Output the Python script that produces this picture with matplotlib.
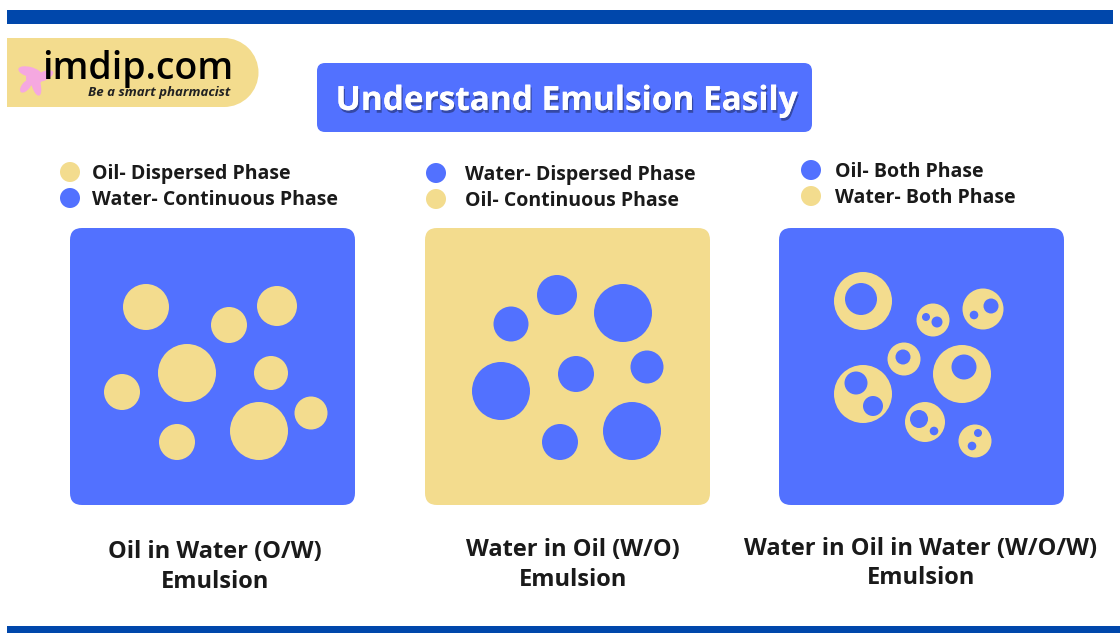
import matplotlib
matplotlib.use("Agg")
import matplotlib.pyplot as plt
from matplotlib.patches import Circle, FancyBboxPatch, Rectangle, Ellipse
import matplotlib.patheffects as pe

BLUE = "#5271FF"
YELLOW = "#F3DC8E"
DARK = "#0047AB"

plt.rcParams['font.family'] = ['Open Sans', 'DejaVu Sans']

# panels: (x, y, width, height) in picture pixels
panel_x = [70, 425, 779]
panel_y = 228
panel_w = 285
panel_h = 277
panel_bg = [BLUE, YELLOW, BLUE]

# droplets (cx, cy, r)
drops_ow = [(146, 307, 23), (229, 325, 18), (277, 306, 20), (187, 373, 29),
            (122, 392, 18), (271, 373, 17), (311, 413, 16.5), (177, 442, 18),
            (259, 431, 29)]
drops_wo = [(557, 295, 20), (511, 324, 17.5), (623, 313, 29), (501, 391, 29),
            (576, 374, 18), (647, 367, 16.5), (560, 442, 18), (632, 431, 29)]
# W/O/W: outer oil droplet, then inner water droplets
drops_wow = [
    ((863, 301, 29), [(861, 299, 16)]),
    ((933, 320, 16.5), [(926, 317, 4), (937, 322, 5.5)]),
    ((983, 309, 20.5), [(991, 306, 7.5), (974, 315, 4.3)]),
    ((904, 359, 16.5), [(903, 357, 7.5)]),
    ((962, 374, 29), [(964, 367, 12.5)]),
    ((863, 394, 29), [(856, 383, 11.5), (873, 406, 10)]),
    ((925, 422, 20), [(919, 419, 9), (934, 431, 4.3)]),
    ((975, 441, 16.5), [(978, 433, 4), (972, 446, 4.3)]),
]

legend_text = [["Oil- Dispersed Phase", "Water- Continuous Phase"],
               ["Water- Dispersed Phase", "Oil- Continuous Phase"],
               ["Oil- Both Phase", "Water- Both Phase"]]
legend_col = [[YELLOW, BLUE], [BLUE, YELLOW], [BLUE, YELLOW]]
legend_dot_x = [70, 436, 811]
legend_text_x = [92, 465, 835]
legend_base = [[179, 205], [180, 206], [177, 203]]

labels = [["Oil in Water (O/W)", "Emulsion"],
          ["Water in Oil (W/O)", "Emulsion"],
          ["Water in Oil in Water (W/O/W)", "Emulsion"]]
label_x = [215, 573, 921]
label_base = [[558, 588], [556, 586], [555, 584]]

fig = plt.figure(figsize=(11.2, 6.33), dpi=100)
ax = fig.add_axes([0, 0, 1, 1])
ax.set_xlim(0, 1120)
ax.set_ylim(633, 0)
ax.axis('off')

# top and bottom bars
ax.add_patch(Rectangle((7, 10), 1106, 14, color=DARK, lw=0))
ax.add_patch(Rectangle((7, 626), 1113, 7, color=DARK, lw=0))

# logo
ax.add_patch(Rectangle((7, 38), 218, 69, color=YELLOW, lw=0))
ax.add_patch(Circle((224, 72.5), 34.5, color=YELLOW, lw=0))
pink = "#F5A8E0"
for (cx, cy, w, h, a) in [(30, 72, 24, 10, 15), (36, 84, 9, 24, -15),
                          (26, 86, 8, 16, 40), (44, 76, 20, 9, -25),
                          (34, 78, 16, 16, 0)]:
    ax.add_patch(Ellipse((cx, cy), w, h, angle=a, color=pink, lw=0))
ax.text(42, 79, "imdip.com", fontsize=27, fontweight="semibold",
        color="black", va="baseline", ha="left")
ax.text(88, 96, "Be a smart pharmacist", fontsize=9.5, fontweight="bold",
        style="italic", color="#222222", va="baseline", ha="left")

# title
ax.add_patch(FancyBboxPatch((317, 63), 495, 69,
                            boxstyle="round,pad=0,rounding_size=8",
                            color=BLUE, lw=0))
ax.text(567, 110, "Understand Emulsion Easily", fontsize=24,
        fontweight="bold", color="white", ha="center", va="baseline",
        path_effects=[pe.withSimplePatchShadow(offset=(1, -2),
                                               shadow_rgbFace="black",
                                               alpha=0.35),
                      pe.Normal()])

# panels
for i in range(3):
    ax.add_patch(FancyBboxPatch((panel_x[i], panel_y), panel_w, panel_h,
                                boxstyle="round,pad=0,rounding_size=12",
                                color=panel_bg[i], lw=0))
for (cx, cy, r) in drops_ow:
    ax.add_patch(Circle((cx, cy), r, color=YELLOW, lw=0))
for (cx, cy, r) in drops_wo:
    ax.add_patch(Circle((cx, cy), r, color=BLUE, lw=0))
for (outer, inner) in drops_wow:
    ax.add_patch(Circle(outer[:2], outer[2], color=YELLOW, lw=0))
    for (cx, cy, r) in inner:
        ax.add_patch(Circle((cx, cy), r, color=BLUE, lw=0))

# legends
for i in range(3):
    for j in range(2):
        yb = legend_base[i][j]
        ax.add_patch(Circle((legend_dot_x[i], yb - 7), 10,
                            color=legend_col[i][j], lw=0))
        ax.text(legend_text_x[i], yb, legend_text[i][j], fontsize=14,
                fontweight="bold", color="#1a1a1a", ha="left",
                va="baseline")

# labels under the panels
for i in range(3):
    for j in range(2):
        ax.text(label_x[i], label_base[i][j], labels[i][j], fontsize=17,
                fontweight="bold", color="#1a1a1a", ha="center",
                va="baseline")

fig.savefig("out.png", dpi=100)
